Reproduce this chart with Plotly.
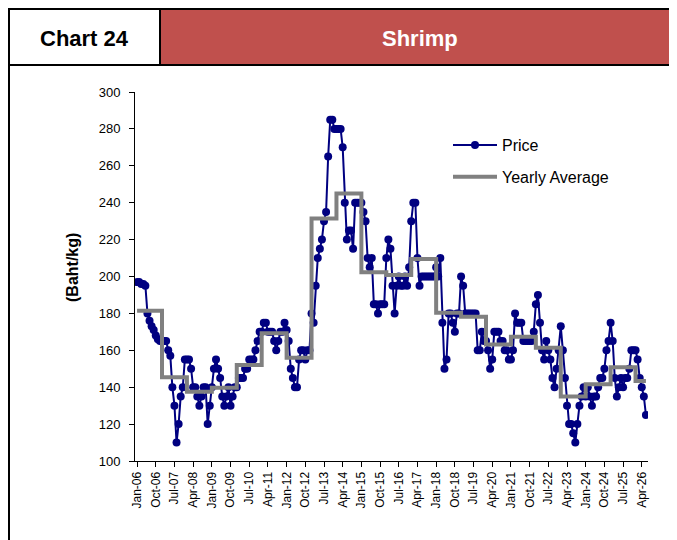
import plotly.graph_objects as go

# ---- data ----
years = list(range(2006, 2027))
price_2006 = [197, 197, 196, 196, 195, 180, 176, 173, 171, 168, 166, 165]
price_2007 = [165, 165, 165, 160, 157, 140, 130, 110, 120, 135, 140, 155]
price_2008 = [155, 155, 150, 140, 140, 135, 130, 135, 140, 140, 120, 130]
price_2009 = [140, 150, 155, 150, 145, 135, 130, 135, 140, 130, 135, 140]
price_2010 = [140, 145, 145, 145, 150, 150, 155, 155, 155, 160, 165, 170]
price_2011 = [170, 175, 175, 170, 170, 170, 165, 160, 165, 170, 170, 175]
price_2012 = [171, 165, 150, 145, 140, 140, 155, 160, 160, 155, 160, 160]
price_2013 = [180, 175, 195, 210, 215, 220, 230, 235, 265, 285, 285, 280]
price_2014 = [280, 280, 280, 270, 240, 220, 225, 225, 215, 240, 240, 240]
price_2015 = [240, 235, 230, 210, 205, 210, 185, 185, 180, 185, 185, 185]
price_2016 = [210, 220, 215, 195, 180, 195, 200, 195, 195, 200, 195, 205]
price_2017 = [230, 240, 240, 210, 195, 200, 200, 200, 200, 200, 200, 200]
price_2018 = [205, 200, 210, 175, 150, 155, 180, 180, 175, 170, 180, 180]
price_2019 = [200, 195, 180, 180, 180, 180, 180, 180, 160, 160, 170, 165]
price_2020 = [165, 160, 150, 155, 170, 170, 170, 165, 165, 160, 160, 155]
price_2021 = [155, 160, 180, 175, 175, 175, 165, 165, 165, 165, 165, 170]
price_2022 = [185, 190, 175, 160, 155, 165, 160, 155, 145, 140, 150, 160]
price_2023 = [173, 160, 145, 130, 120, 120, 115, 110, 120, 130, 135, 140]
price_2024 = [135, 140, 135, 130, 135, 135, 140, 145, 145, 150, 160, 165]
price_2025 = [175, 165, 145, 135, 140, 145, 140, 145, 145, 150, 160, 160]
price_2026 = [160, 155, 145, 140, 135, 125]

yearly_average = [181.5, 145.4, 137.6, 139.7, 152.0, 169.2, 156.0, 231.5, 245.0,
                  202.3, 200.8, 209.5, 180.3, 178.2, 163.2, 167.4, 161.4, 134.9,
                  141.6, 150.8, 143.4]

tick_labels = ["Jan-06", "Oct-06", "Jul-07", "Apr-08", "Jan-09", "Oct-09", "Jul-10",
               "Apr-11", "Jan-12", "Oct-12", "Jul-13", "Apr-14", "Jan-15", "Oct-15",
               "Jul-16", "Apr-17", "Jan-18", "Oct-18", "Jul-19", "Apr-20", "Jan-21",
               "Oct-21", "Jul-22", "Apr-23", "Jan-24", "Oct-24", "Jul-25", "Apr-26"]

price_by_year = [price_2006, price_2007, price_2008, price_2009, price_2010, price_2011,
                 price_2012, price_2013, price_2014, price_2015, price_2016, price_2017,
                 price_2018, price_2019, price_2020, price_2021, price_2022, price_2023,
                 price_2024, price_2025, price_2026]

price = [v for yr in price_by_year for v in yr]
x_idx = list(range(len(price)))
avg_monthly = [yearly_average[k] for k, yr in enumerate(price_by_year) for _ in yr]
tick_vals = [9 * k for k in range(len(tick_labels))]

FONT = "Liberation Sans, Arial, sans-serif"
OFF = 8  # page body margin
W, H = 677 - OFF, 540 - OFF
L, T = 135 - OFF, 92 - OFF
R = W - (648 - OFF)
B = H - (461 - OFF)
pw, ph = W - L - R, H - T - B


def px(x):
    # screen pixel -> paper
    return (x - OFF - L) / pw


def py(y):
    return (H - B - (y - OFF)) / ph


fig = go.Figure()
fig.add_trace(go.Scatter(
    x=x_idx, y=price, name="Price", mode="lines+markers",
    line=dict(color="#000080", width=2),
    marker=dict(color="#000080", size=8, symbol="circle"),
    legendgroup="a",
))
fig.add_trace(go.Scatter(
    x=x_idx, y=avg_monthly, name="Yearly Average", mode="lines",
    line=dict(color="#808080", width=4, shape="hv"),
    legendgroup="b",
))

shapes = [
    dict(type="rect", xref="paper", yref="paper", x0=px(9), x1=px(160), y0=py(65), y1=py(9),
         fillcolor="white", line=dict(color="black", width=2), layer="above"),
    dict(type="rect", xref="paper", yref="paper", x0=px(160), x1=px(700), y0=py(65), y1=py(9),
         fillcolor="#C0504D", line=dict(color="black", width=2), layer="above"),
    dict(type="line", xref="paper", yref="paper", x0=px(9), x1=px(9), y0=py(65), y1=py(545),
         line=dict(color="black", width=2)),
]

annotations = [
    dict(text="<b>Chart 24</b>", xref="paper", yref="paper", x=px(84), y=py(38),
         showarrow=False, font=dict(family=FONT, size=22, color="black"),
         xanchor="center", yanchor="middle"),
    dict(text="<b>Shrimp</b>", xref="paper", yref="paper", x=px(420), y=py(38),
         showarrow=False, font=dict(family=FONT, size=22, color="white"),
         xanchor="center", yanchor="middle"),
    dict(text="<b>(Baht/kg)</b>", xref="paper", yref="paper", x=px(72), y=py(268),
         showarrow=False, textangle=-90, font=dict(family=FONT, size=16, color="black"),
         xanchor="center", yanchor="middle"),
]

fig.update_layout(
    width=W, height=H,
    margin=dict(l=L, r=R, t=T, b=B, autoexpand=False),
    paper_bgcolor="white", plot_bgcolor="white",
    font=dict(family=FONT, color="black"),
    showlegend=True,
    legend=dict(x=px(448), y=py(128), xanchor="left", yanchor="top",
                font=dict(family=FONT, size=16, color="black"),
                bgcolor="rgba(0,0,0,0)", tracegroupgap=8, itemwidth=44),
    xaxis=dict(range=[-1, 246], tickmode="array", tickvals=tick_vals, ticktext=tick_labels,
               tickangle=-90, tickfont=dict(family=FONT, size=12, color="black"),
               showline=True, linecolor="black", linewidth=1, ticks="outside",
               ticklen=5, tickcolor="black", showgrid=False, zeroline=False),
    yaxis=dict(range=[100, 300], tickmode="array", tickvals=list(range(100, 301, 20)),
               tickfont=dict(family=FONT, size=13, color="black"),
               showline=True, linecolor="black", linewidth=1, ticks="outside",
               ticklen=5, tickcolor="black", showgrid=False, zeroline=False,
               ticklabelstandoff=6),
    shapes=shapes, annotations=annotations,
)

fig.write_html("out.html")
